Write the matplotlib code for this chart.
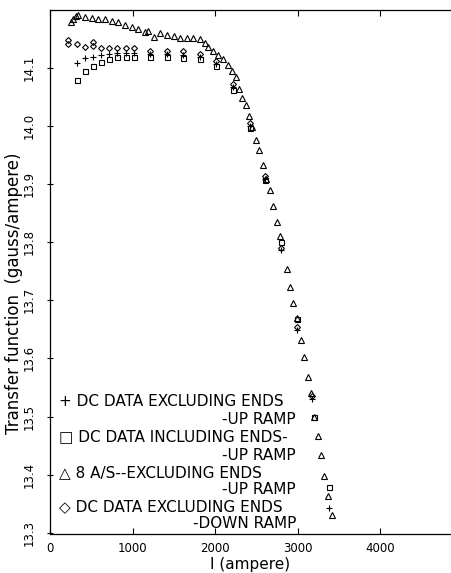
import matplotlib
matplotlib.use("Agg")
import matplotlib.pyplot as plt

# 8 A/S ramp, excluding ends, up ramp (triangles)
tri_x = [260, 284, 314, 345, 423, 508, 586, 665, 750, 828, 907, 991,
         1070, 1149, 1191, 1257, 1336, 1415, 1499, 1578, 1656, 1735, 1814, 1874,
         1916, 1977, 2037, 2092, 2152, 2200, 2249, 2289, 2330, 2370, 2410, 2451,
         2499, 2539, 2579, 2620, 2666, 2700, 2748, 2789, 2869, 2910, 2950, 2995,
         3043, 3083, 3123, 3165, 3204, 3252, 3285, 3325, 3373, 3413]
tri_y = [14.178, 14.184, 14.188, 14.190, 14.187, 14.185, 14.184, 14.183, 14.180, 14.178, 14.174, 14.170,
         14.167, 14.161, 14.163, 14.153, 14.159, 14.156, 14.155, 14.151, 14.151, 14.151, 14.149, 14.142,
         14.135, 14.129, 14.122, 14.114, 14.105, 14.094, 14.083, 14.064, 14.047, 14.035, 14.016, 13.998,
         13.975, 13.958, 13.933, 13.909, 13.890, 13.862, 13.834, 13.810, 13.754, 13.722, 13.696, 13.670,
         13.632, 13.603, 13.568, 13.540, 13.500, 13.467, 13.434, 13.397, 13.364, 13.331]

# DC data excluding ends, down ramp (diamonds)
dn_x = [215, 215, 326, 423, 516, 516, 617, 713, 810, 919, 1016, 1209, 1415, 1608,
        1814, 2015, 2212, 2426, 2600, 2805, 2995, 3176]
dn_y = [14.147, 14.141, 14.141, 14.135, 14.144, 14.137, 14.134, 14.134, 14.134, 14.133, 14.133,
        14.129, 14.128, 14.128, 14.123, 14.111, 14.071, 14.004, 13.914, 13.790, 13.654, 13.536]

# DC data excluding ends, up ramp (plus)
up_x = [326, 423, 520, 617, 713, 810, 919, 1016, 1209, 1415, 1608, 1814, 2015,
        2212, 2426, 2600, 2805, 2995, 3176, 3377]
up_y = [14.108, 14.116, 14.119, 14.122, 14.124, 14.125, 14.125, 14.125, 14.123, 14.123,
        14.122, 14.119, 14.106, 14.066, 13.999, 13.909, 13.786, 13.649, 13.530, 13.342]

# DC data including ends, up ramp (squares)
inc_x = [326, 423, 520, 617, 713, 810, 919, 1016, 1209, 1415, 1608, 1814, 2015,
         2212, 2426, 2600, 2805, 2995, 3204, 3377]
inc_y = [14.078, 14.094, 14.102, 14.110, 14.114, 14.118, 14.119, 14.119, 14.118, 14.118,
         14.117, 14.114, 14.102, 14.062, 13.996, 13.906, 13.800, 13.668, 13.500, 13.378]

x_ticks = [0, 1000, 2000, 3000, 4000]
y_ticks = [13.3, 13.4, 13.5, 13.6, 13.7, 13.8, 13.9, 14.0, 14.1]

legend_lines = [
    ("+ DC DATA EXCLUDING ENDS", "-UP RAMP"),
    ("\u25a1 DC DATA INCLUDING ENDS-", "-UP RAMP"),
    ("\u25b3 8 A/S--EXCLUDING ENDS", "-UP RAMP"),
    ("\u25c7 DC DATA EXCLUDING ENDS", "-DOWN RAMP"),
]

W, H = 452, 573
fig = plt.figure(figsize=(W / 100, H / 100), dpi=100)
ax = fig.add_axes([50 / W, (H - 534) / H, (451 - 50) / W, (534 - 10) / H])

kw = dict(linestyle="none", color="black", markerfacecolor="none")
ax.plot(tri_x, tri_y, marker="^", markersize=4, markeredgewidth=0.8, **kw)
ax.plot(inc_x, inc_y, marker="s", markersize=3.6, markeredgewidth=0.8, **kw)
ax.plot(dn_x, dn_y, marker="D", markersize=3, markeredgewidth=0.8, **kw)
ax.plot(up_x, up_y, marker="+", markersize=4, markeredgewidth=0.8, linestyle="none", color="black")

ax.set_xlim(0, 4860)
ax.set_ylim(13.298, 14.199)
ax.set_xticks(x_ticks)
ax.set_xticklabels([str(v) for v in x_ticks])
ax.set_yticks(y_ticks)
ax.set_yticklabels([f"{v:.1f}" for v in y_ticks], rotation=90, va="center")
ax.spines["right"].set_visible(False)
for s in ax.spines.values():
    s.set_linewidth(0.9)
ax.tick_params(axis="x", direction="in", length=4, top=True, labelsize=8.5, pad=6)
ax.tick_params(axis="y", direction="inout", length=5, labelsize=8.5, pad=8)

ax.set_xlabel("I (ampere)", fontsize=11, labelpad=1)
ax.set_ylabel("Transfer function  (gauss/ampere)", fontsize=12)
ax.yaxis.set_label_coords(-0.068, 0.46)

ys = [401, 419, 437, 455, 473, 490, 507, 523]
for i, (a, b) in enumerate(legend_lines):
    fig.text(59 / W, 1 - ys[2 * i] / H, a, fontsize=11, ha="left", va="center")
    fig.text(296 / W, 1 - ys[2 * i + 1] / H, b, fontsize=11, ha="right", va="center")

fig.savefig("out.png", dpi=100)
